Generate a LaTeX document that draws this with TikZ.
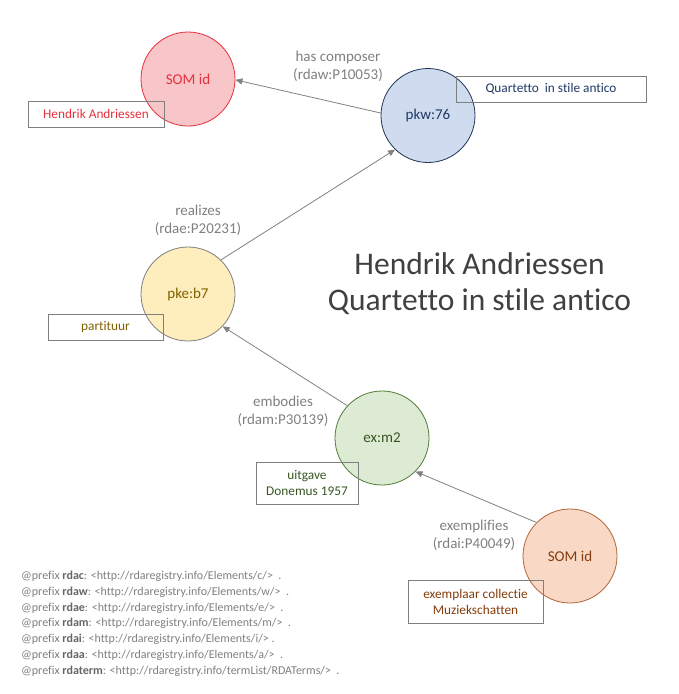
\documentclass[tikz,border=0pt]{standalone}
\usepackage{fontspec}
\setmainfont[Ligatures=CommonOff]{Carlito}
\usetikzlibrary{arrows.meta}
\definecolor{lblgray}{HTML}{808080}
\definecolor{boxgray}{HTML}{7F7F7F}
\definecolor{redfill}{HTML}{F8C6C8}
\definecolor{redline}{HTML}{E5303C}
\definecolor{bluefill}{HTML}{CFDBEE}
\definecolor{blueline}{HTML}{1F3556}
\definecolor{bluetext}{HTML}{1F3864}
\definecolor{yelfill}{HTML}{FFEEBD}
\definecolor{yeltext}{HTML}{7F6000}
\definecolor{grnfill}{HTML}{DEEBD4}
\definecolor{grnline}{HTML}{507E36}
\definecolor{grntext}{HTML}{375623}
\definecolor{pchfill}{HTML}{F9D9C5}
\definecolor{pchline}{HTML}{B0643A}
\definecolor{pchtext}{HTML}{843C0C}
\definecolor{titlegray}{HTML}{404040}
\definecolor{prefgray}{HTML}{7F7F7F}
\definecolor{prefbold}{HTML}{666666}
\tikzset{
  ent/.style={circle, minimum size=94pt, inner sep=0pt, line width=0.8pt, font=\fontsize{15}{17}\selectfont},
  lbox/.style={draw=boxgray, line width=0.7pt, inner sep=0pt, align=center, font=\fontsize{13.3}{16}\selectfont},
  rel/.style={draw=lblgray, line width=0.8pt, -{Triangle[length=7pt,width=6pt]}},
  rlabel/.style={text=lblgray, align=center, font=\fontsize{15}{18}\selectfont},
  pref/.style={anchor=base west, inner sep=0pt, text=prefgray, font=\fontsize{12}{13}\selectfont}
}
\newcommand{\pb}[1]{\textcolor{prefbold}{\bfseries #1}}
\begin{document}
\begin{tikzpicture}[x=1pt,y=-1pt]
\useasboundingbox (0,0) rectangle (678,694);
% entities
\node[ent, fill=redfill, draw=redline, text=redline] (som) at (188,79) {SOM id};
\node[ent, fill=bluefill, draw=blueline, text=bluetext] (pkw) at (428,115.5) {pkw:76};
\node[ent, fill=yelfill, draw=boxgray, text=yeltext] (pke) at (188,294) {pke:b7};
\node[ent, fill=grnfill, draw=grnline, text=grntext] (exm) at (382,438) {ex:m2};
\node[ent, fill=pchfill, draw=pchline, text=pchtext] (soi) at (570,556) {SOM id};
% relations
\draw[rel] (pkw.177) -- (som.359);
\draw[rel] (pke.46) -- (pkw.226);
\draw[rel] (exm.137) -- (pke.-43);
\draw[rel] (soi.135) -- (exm.-45);
% relation labels
\node[rlabel] (lcomp) at (338,66) {has composer\\(rdaw:P10053)};
\node[rlabel] (lreal) at (198,220.5) {realizes\\(rdae:P20231)};
\node[rlabel] (lemb) at (283,411) {embodies\\(rdam:P30139)};
\node[rlabel] (lexe) at (474,535) {exemplifies\\(rdai:P40049)};
% label boxes
\node[lbox, minimum width=136pt, minimum height=26pt, text=redline] (hbox) at (96,114) {Hendrik Andriessen};
\node[lbox, minimum width=190pt, minimum height=26pt, text=bluetext] (qbox) at (551,89) {Quartetto\ \ in stile antico};
\node[lbox, minimum width=115pt, minimum height=26pt, text=yeltext] (pbox) at (105.5,327) {partituur};
\node[lbox, minimum width=102pt, minimum height=42pt, text=grntext] (ubox) at (307,483) {uitgave\\Donemus 1957};
\node[lbox, minimum width=135pt, minimum height=43pt, text=pchtext] (ebox) at (475.5,601.5) {exemplaar collectie\\Muziekschatten};
% title
\node[text=titlegray, align=center, font=\fontsize{31.5}{36}\selectfont] (title) at (479.5,284) {Hendrik Andriessen\\Quartetto in stile antico};
% prefixes
\node[pref] (p1) at (21,579.5) {@prefix \pb{rdac}: <http://rdaregistry.info/Elements/c/> \ .};
\node[pref] (p2) at (21,595.3) {@prefix \pb{rdaw}: <http://rdaregistry.info/Elements/w/> \ .};
\node[pref] (p3) at (21,611.1) {@prefix \pb{rdae}: <http://rdaregistry.info/Elements/e/> \ .};
\node[pref] (p4) at (21,626.9) {@prefix \pb{rdam}: <http://rdaregistry.info/Elements/m/> \ .};
\node[pref] (p5) at (21,642.7) {@prefix \pb{rdai}: <http://rdaregistry.info/Elements/i/> .};
\node[pref] (p6) at (21,658.5) {@prefix \pb{rdaa}: <http://rdaregistry.info/Elements/a/> \ .};
\node[pref] (p7) at (21,674.3) {@prefix \pb{rdaterm}: <http://rdaregistry.info/termList/RDATerms/> \ .};
\end{tikzpicture}
\end{document}
